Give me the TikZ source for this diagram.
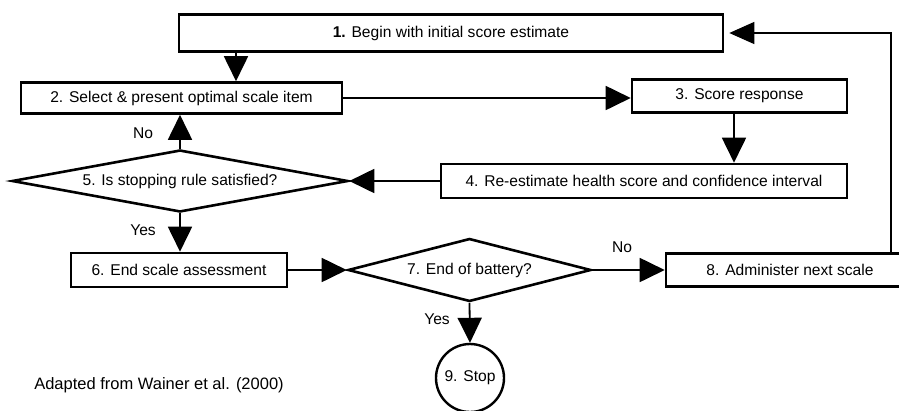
\documentclass[tikz,border=0pt]{standalone}
\usepackage{fontspec}
\setmainfont{Liberation Sans}
\usetikzlibrary{shapes.geometric,arrows.meta}
\begin{document}
\begin{tikzpicture}[x=1pt,y=-1pt,
  every node/.style={font=\fontsize{15.6}{18}\selectfont},
  box/.style={draw,line width=2.6pt,rectangle,inner sep=0pt},
  dia/.style={draw,line width=2.6pt,shape=diamond,inner sep=0pt},
  stopc/.style={draw,line width=2.4pt,circle,inner sep=0pt,minimum size=68pt},
  arr/.style={line width=1.8pt,-{Triangle[length=25pt,width=24pt]}},
  thinarr/.style={line width=1.3pt,-{Triangle[length=25pt,width=22pt]}},
  lbl/.style={inner sep=0pt}]
\clip (0,0) rectangle (899,410);
\node[box,minimum width=544pt,minimum height=37pt] (b1) at (451,33) {{\bfseries 1.} Begin with initial score estimate};
\node[box,minimum width=321pt,minimum height=31pt] (b2) at (181.5,98) {2. Select \& present optimal scale item};
\node[box,minimum width=215pt,minimum height=33pt] (b3) at (739.5,96) {3. Score response};
\node[box,minimum width=406pt,minimum height=34pt] (b4) at (644,181) {4. Re-estimate health score and confidence interval};
\node[dia,aspect=5.4,minimum width=336pt,minimum height=62pt] (d5) at (180,181) {5. Is stopping rule satisfied?};
\node[box,minimum width=216pt,minimum height=34pt] (b6) at (179,270) {6. End scale assessment};
\node[dia,aspect=3.8,minimum width=243pt,minimum height=63pt] (d7) at (469.5,270) {7. End of battery?};
\node[box,minimum width=248pt,minimum height=33pt] (b8) at (790,270) {8. Administer next scale};
\node[stopc] (c9) at (470,378) {9. Stop};
\node[lbl] (no1) at (143,133) {No};
\node[lbl] (yes1) at (143,230) {Yes};
\node[lbl] (no2) at (622,247) {No};
\node[lbl] (yes2) at (437,319) {Yes};
\node[lbl,font=\fontsize{16.5}{19}\selectfont] (cap) at (159,385) {Adapted from Wainer et al. (2000)};
\coordinate (x12) at (236,0);
\coordinate (x34) at (734,0);
\coordinate (xr) at (891,0);
\draw[arr] (b1.south -| x12) -- (b2.north -| x12);
\draw[arr] (b2.east) -- (b2.east -| b3.west);
\draw[arr] (b3.south -| x34) -- (b4.north -| x34);
\draw[arr] (b4.west) -- (d5.east);
\draw[arr] (d5.north) -- (d5.north |- b2.south);
\draw[arr] (d5.south) -- (d5.south |- b6.north);
\draw[arr] (b6.east) -- (d7.west);
\draw[arr] (d7.east) -- (b8.west);
\draw[arr] (d7.south) -- (c9.north);
\draw[thinarr,shorten >=5pt] (b8.north -| xr) |- (b1.east);
\end{tikzpicture}
\end{document}
